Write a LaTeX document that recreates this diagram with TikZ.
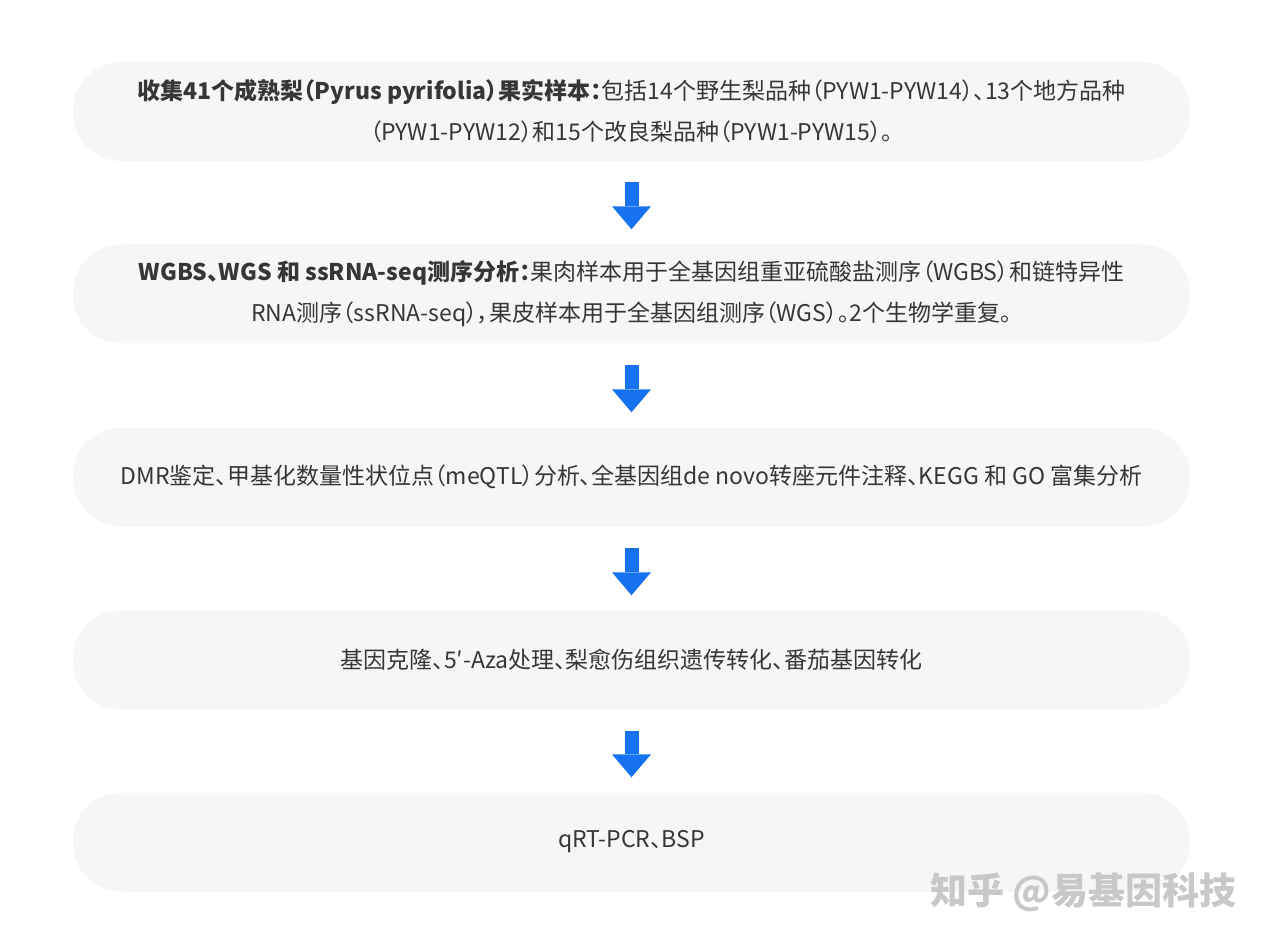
\documentclass[tikz,border=0pt]{standalone}
\usepackage{fontspec}
\setmainfont[RawFeature=+palt]{Noto Sans CJK SC}
\usetikzlibrary{arrows.meta}
\definecolor{boxgray}{HTML}{F5F7F7}
\definecolor{flowblue}{HTML}{1672F0}
\definecolor{txtgray}{HTML}{363636}
\definecolor{markgray}{HTML}{C8C8C8}

\begin{document}
\begin{tikzpicture}[x=1pt,y=-1pt]
\useasboundingbox (0,0) rectangle (1269,949);
\tikzstyle{stage}=[rectangle, rounded corners=48pt, fill=boxgray, minimum width=1117pt, minimum height=99pt, align=center, text=txtgray, font=\fontsize{23}{41}\selectfont, inner sep=0pt]
\tikzstyle{flow}=[flowblue, line width=14pt, -{Triangle[width=39pt,length=23pt,line width=0pt]}, shorten <=21pt, shorten >=15pt]
\node[stage] (a) at (631.5,111.5) {{\bfseries 收集41个成熟梨（Pyrus pyrifolia）果实样本：}包括14个野生梨品种（PYW1-PYW14）、13个地方品种\\（PYW1-PYW12）和15个改良梨品种（PYW1-PYW15）。};
\node[stage] (b) at (631.5,294) {{\bfseries WGBS、WGS 和 ssRNA-seq测序分析：}果肉样本用于全基因组重亚硫酸盐测序（WGBS）和链特异性\\RNA测序（ssRNA-seq），果皮样本用于全基因组测序（WGS）。2个生物学重复。};
\node[stage] (c) at (631.5,477) {DMR鉴定、甲基化数量性状位点（meQTL）分析、全基因组de novo转座元件注释、KEGG 和 GO 富集分析};
\node[stage] (d) at (631.5,660) {基因克隆、5′-Aza处理、梨愈伤组织遗传转化、番茄基因转化};
\node[stage] (e) at (631.5,842) {qRT-PCR、BSP};
\draw[flow] (a) -- (b);
\draw[flow] (b) -- (c);
\draw[flow] (c) -- (d);
\draw[flow] (d) -- (e);
\node[text=markgray, font=\fontsize{37}{37}\selectfont\bfseries] (w) at (1083,892) {知乎 @易基因科技};
\end{tikzpicture}
\end{document}
